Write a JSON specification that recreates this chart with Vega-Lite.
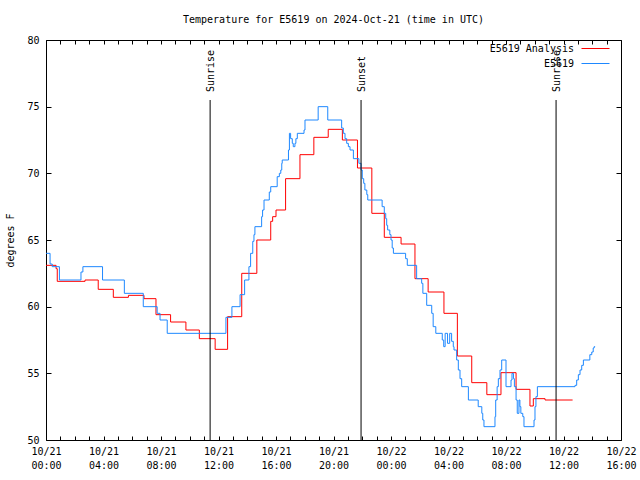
{
  "$schema": "https://vega.github.io/schema/vega-lite/v6.json",
  "width": 575,
  "height": 400,
  "autosize": {"type": "none"},
  "padding": {"left": 46, "top": 40, "right": 19, "bottom": 40},
  "background": "white",
  "title": {"text": "Temperature for E5619 on 2024-Oct-21 (time in UTC)", "font": "DejaVu Sans Mono", "fontSize": 10, "fontWeight": "normal", "offset": 9, "anchor": "middle", "color": "black"},
  "config": {"view": {"stroke": "black", "strokeWidth": 1}, "font": "DejaVu Sans Mono"},
  "resolve": {"scale": {"color": "independent"}, "legend": {"color": "independent"}},
  "datasets": {
    "temps": [
      {"t": "2024-10-21T00:00:00Z", "s": "E5619", "v": 64},
      {"t": "2024-10-21T00:17:00Z", "s": "E5619", "v": 63.2},
      {"t": "2024-10-21T00:26:00Z", "s": "E5619", "v": 63},
      {"t": "2024-10-21T00:56:00Z", "s": "E5619", "v": 62},
      {"t": "2024-10-21T02:26:00Z", "s": "E5619", "v": 62.6},
      {"t": "2024-10-21T02:34:00Z", "s": "E5619", "v": 63},
      {"t": "2024-10-21T03:56:00Z", "s": "E5619", "v": 62},
      {"t": "2024-10-21T05:27:00Z", "s": "E5619", "v": 61},
      {"t": "2024-10-21T06:46:00Z", "s": "E5619", "v": 60},
      {"t": "2024-10-21T07:44:00Z", "s": "E5619", "v": 59.5},
      {"t": "2024-10-21T07:56:00Z", "s": "E5619", "v": 59},
      {"t": "2024-10-21T08:26:00Z", "s": "E5619", "v": 58},
      {"t": "2024-10-21T12:31:00Z", "s": "E5619", "v": 59.2},
      {"t": "2024-10-21T12:56:00Z", "s": "E5619", "v": 60},
      {"t": "2024-10-21T13:30:00Z", "s": "E5619", "v": 60.9},
      {"t": "2024-10-21T13:49:00Z", "s": "E5619", "v": 62},
      {"t": "2024-10-21T14:07:00Z", "s": "E5619", "v": 63},
      {"t": "2024-10-21T14:14:00Z", "s": "E5619", "v": 64},
      {"t": "2024-10-21T14:23:00Z", "s": "E5619", "v": 64.9},
      {"t": "2024-10-21T14:28:00Z", "s": "E5619", "v": 65.4},
      {"t": "2024-10-21T14:32:00Z", "s": "E5619", "v": 66},
      {"t": "2024-10-21T15:00:00Z", "s": "E5619", "v": 66.75},
      {"t": "2024-10-21T15:04:00Z", "s": "E5619", "v": 67.25},
      {"t": "2024-10-21T15:10:00Z", "s": "E5619", "v": 68},
      {"t": "2024-10-21T15:32:00Z", "s": "E5619", "v": 68.6},
      {"t": "2024-10-21T15:38:00Z", "s": "E5619", "v": 69},
      {"t": "2024-10-21T16:05:00Z", "s": "E5619", "v": 69.75},
      {"t": "2024-10-21T16:14:00Z", "s": "E5619", "v": 70},
      {"t": "2024-10-21T16:20:00Z", "s": "E5619", "v": 70.25},
      {"t": "2024-10-21T16:24:00Z", "s": "E5619", "v": 70.75},
      {"t": "2024-10-21T16:26:00Z", "s": "E5619", "v": 71},
      {"t": "2024-10-21T16:52:00Z", "s": "E5619", "v": 71.75},
      {"t": "2024-10-21T16:56:00Z", "s": "E5619", "v": 73},
      {"t": "2024-10-21T17:01:00Z", "s": "E5619", "v": 72.6},
      {"t": "2024-10-21T17:08:00Z", "s": "E5619", "v": 72.25},
      {"t": "2024-10-21T17:12:00Z", "s": "E5619", "v": 72},
      {"t": "2024-10-21T17:19:00Z", "s": "E5619", "v": 72.25},
      {"t": "2024-10-21T17:23:00Z", "s": "E5619", "v": 72.6},
      {"t": "2024-10-21T17:29:00Z", "s": "E5619", "v": 73},
      {"t": "2024-10-21T17:57:00Z", "s": "E5619", "v": 73.25},
      {"t": "2024-10-21T18:01:00Z", "s": "E5619", "v": 74},
      {"t": "2024-10-21T18:56:00Z", "s": "E5619", "v": 75},
      {"t": "2024-10-21T19:36:00Z", "s": "E5619", "v": 74},
      {"t": "2024-10-21T20:34:00Z", "s": "E5619", "v": 73.4},
      {"t": "2024-10-21T20:41:00Z", "s": "E5619", "v": 73},
      {"t": "2024-10-21T20:48:00Z", "s": "E5619", "v": 72.6},
      {"t": "2024-10-21T20:55:00Z", "s": "E5619", "v": 72.25},
      {"t": "2024-10-21T21:02:00Z", "s": "E5619", "v": 72},
      {"t": "2024-10-21T21:09:00Z", "s": "E5619", "v": 71.75},
      {"t": "2024-10-21T21:23:00Z", "s": "E5619", "v": 71.1},
      {"t": "2024-10-21T21:46:00Z", "s": "E5619", "v": 70.75},
      {"t": "2024-10-21T21:55:00Z", "s": "E5619", "v": 70.25},
      {"t": "2024-10-21T22:00:00Z", "s": "E5619", "v": 69.6},
      {"t": "2024-10-21T22:06:00Z", "s": "E5619", "v": 69.25},
      {"t": "2024-10-21T22:11:00Z", "s": "E5619", "v": 68.75},
      {"t": "2024-10-21T22:19:00Z", "s": "E5619", "v": 68.4},
      {"t": "2024-10-21T22:23:00Z", "s": "E5619", "v": 68},
      {"t": "2024-10-21T23:23:00Z", "s": "E5619", "v": 67.5},
      {"t": "2024-10-21T23:32:00Z", "s": "E5619", "v": 67},
      {"t": "2024-10-21T23:38:00Z", "s": "E5619", "v": 66.6},
      {"t": "2024-10-21T23:42:00Z", "s": "E5619", "v": 66.1},
      {"t": "2024-10-21T23:46:00Z", "s": "E5619", "v": 65.75},
      {"t": "2024-10-21T23:55:00Z", "s": "E5619", "v": 65.4},
      {"t": "2024-10-22T00:00:00Z", "s": "E5619", "v": 65},
      {"t": "2024-10-22T00:05:00Z", "s": "E5619", "v": 64.4},
      {"t": "2024-10-22T00:10:00Z", "s": "E5619", "v": 64},
      {"t": "2024-10-22T01:01:00Z", "s": "E5619", "v": 63.6},
      {"t": "2024-10-22T01:08:00Z", "s": "E5619", "v": 63.1},
      {"t": "2024-10-22T01:47:00Z", "s": "E5619", "v": 62.1},
      {"t": "2024-10-22T02:08:00Z", "s": "E5619", "v": 61.75},
      {"t": "2024-10-22T02:13:00Z", "s": "E5619", "v": 61},
      {"t": "2024-10-22T02:29:00Z", "s": "E5619", "v": 60.1},
      {"t": "2024-10-22T02:50:00Z", "s": "E5619", "v": 59.5},
      {"t": "2024-10-22T02:56:00Z", "s": "E5619", "v": 58.5},
      {"t": "2024-10-22T03:07:00Z", "s": "E5619", "v": 58},
      {"t": "2024-10-22T03:34:00Z", "s": "E5619", "v": 57.5},
      {"t": "2024-10-22T03:40:00Z", "s": "E5619", "v": 57},
      {"t": "2024-10-22T03:46:00Z", "s": "E5619", "v": 58},
      {"t": "2024-10-22T03:56:00Z", "s": "E5619", "v": 57.25},
      {"t": "2024-10-22T04:05:00Z", "s": "E5619", "v": 58},
      {"t": "2024-10-22T04:13:00Z", "s": "E5619", "v": 57.4},
      {"t": "2024-10-22T04:20:00Z", "s": "E5619", "v": 57},
      {"t": "2024-10-22T04:23:00Z", "s": "E5619", "v": 56.75},
      {"t": "2024-10-22T04:34:00Z", "s": "E5619", "v": 56},
      {"t": "2024-10-22T04:41:00Z", "s": "E5619", "v": 55.25},
      {"t": "2024-10-22T04:48:00Z", "s": "E5619", "v": 54.6},
      {"t": "2024-10-22T04:55:00Z", "s": "E5619", "v": 54},
      {"t": "2024-10-22T05:23:00Z", "s": "E5619", "v": 53},
      {"t": "2024-10-22T06:04:00Z", "s": "E5619", "v": 52.5},
      {"t": "2024-10-22T06:19:00Z", "s": "E5619", "v": 52},
      {"t": "2024-10-22T06:23:00Z", "s": "E5619", "v": 51.5},
      {"t": "2024-10-22T06:28:00Z", "s": "E5619", "v": 51},
      {"t": "2024-10-22T07:14:00Z", "s": "E5619", "v": 51.75},
      {"t": "2024-10-22T07:17:00Z", "s": "E5619", "v": 53},
      {"t": "2024-10-22T07:23:00Z", "s": "E5619", "v": 54},
      {"t": "2024-10-22T07:28:00Z", "s": "E5619", "v": 54.6},
      {"t": "2024-10-22T07:35:00Z", "s": "E5619", "v": 55.25},
      {"t": "2024-10-22T07:42:00Z", "s": "E5619", "v": 56},
      {"t": "2024-10-22T08:00:00Z", "s": "E5619", "v": 54},
      {"t": "2024-10-22T08:21:00Z", "s": "E5619", "v": 54.5},
      {"t": "2024-10-22T08:25:00Z", "s": "E5619", "v": 55},
      {"t": "2024-10-22T08:31:00Z", "s": "E5619", "v": 54.6},
      {"t": "2024-10-22T08:35:00Z", "s": "E5619", "v": 54},
      {"t": "2024-10-22T08:42:00Z", "s": "E5619", "v": 53},
      {"t": "2024-10-22T08:47:00Z", "s": "E5619", "v": 52},
      {"t": "2024-10-22T08:54:00Z", "s": "E5619", "v": 53},
      {"t": "2024-10-22T08:58:00Z", "s": "E5619", "v": 52.5},
      {"t": "2024-10-22T09:02:00Z", "s": "E5619", "v": 52},
      {"t": "2024-10-22T09:10:00Z", "s": "E5619", "v": 51.75},
      {"t": "2024-10-22T09:15:00Z", "s": "E5619", "v": 51},
      {"t": "2024-10-22T09:57:00Z", "s": "E5619", "v": 51.5},
      {"t": "2024-10-22T10:01:00Z", "s": "E5619", "v": 52.5},
      {"t": "2024-10-22T10:05:00Z", "s": "E5619", "v": 53.25},
      {"t": "2024-10-22T10:11:00Z", "s": "E5619", "v": 54},
      {"t": "2024-10-22T12:48:00Z", "s": "E5619", "v": 54.1},
      {"t": "2024-10-22T12:55:00Z", "s": "E5619", "v": 54.5},
      {"t": "2024-10-22T13:02:00Z", "s": "E5619", "v": 54.9},
      {"t": "2024-10-22T13:09:00Z", "s": "E5619", "v": 55.25},
      {"t": "2024-10-22T13:16:00Z", "s": "E5619", "v": 55.6},
      {"t": "2024-10-22T13:23:00Z", "s": "E5619", "v": 56},
      {"t": "2024-10-22T13:50:00Z", "s": "E5619", "v": 56.4},
      {"t": "2024-10-22T13:58:00Z", "s": "E5619", "v": 56.6},
      {"t": "2024-10-22T14:04:00Z", "s": "E5619", "v": 56.9},
      {"t": "2024-10-22T14:08:00Z", "s": "E5619", "v": 57},
      {"t": "2024-10-22T14:12:00Z", "s": "E5619", "v": 57},
      {"t": "2024-10-21T00:00:00Z", "s": "E5619 Analysis", "v": 63.1},
      {"t": "2024-10-21T00:42:00Z", "s": "E5619 Analysis", "v": 62.85},
      {"t": "2024-10-21T00:47:00Z", "s": "E5619 Analysis", "v": 61.9},
      {"t": "2024-10-21T02:43:00Z", "s": "E5619 Analysis", "v": 62},
      {"t": "2024-10-21T03:38:00Z", "s": "E5619 Analysis", "v": 61.3},
      {"t": "2024-10-21T04:41:00Z", "s": "E5619 Analysis", "v": 60.7},
      {"t": "2024-10-21T05:44:00Z", "s": "E5619 Analysis", "v": 60.85},
      {"t": "2024-10-21T06:49:00Z", "s": "E5619 Analysis", "v": 60.6},
      {"t": "2024-10-21T07:39:00Z", "s": "E5619 Analysis", "v": 59.4},
      {"t": "2024-10-21T08:40:00Z", "s": "E5619 Analysis", "v": 58.85},
      {"t": "2024-10-21T09:44:00Z", "s": "E5619 Analysis", "v": 58.25},
      {"t": "2024-10-21T10:40:00Z", "s": "E5619 Analysis", "v": 57.6},
      {"t": "2024-10-21T11:46:00Z", "s": "E5619 Analysis", "v": 56.8},
      {"t": "2024-10-21T12:38:00Z", "s": "E5619 Analysis", "v": 59.25},
      {"t": "2024-10-21T13:37:00Z", "s": "E5619 Analysis", "v": 62.5},
      {"t": "2024-10-21T14:40:00Z", "s": "E5619 Analysis", "v": 65},
      {"t": "2024-10-21T15:38:00Z", "s": "E5619 Analysis", "v": 66.4},
      {"t": "2024-10-21T15:46:00Z", "s": "E5619 Analysis", "v": 66.75},
      {"t": "2024-10-21T16:00:00Z", "s": "E5619 Analysis", "v": 67.25},
      {"t": "2024-10-21T16:40:00Z", "s": "E5619 Analysis", "v": 69.6},
      {"t": "2024-10-21T17:40:00Z", "s": "E5619 Analysis", "v": 71.4},
      {"t": "2024-10-21T18:38:00Z", "s": "E5619 Analysis", "v": 72.7},
      {"t": "2024-10-21T19:38:00Z", "s": "E5619 Analysis", "v": 73.3},
      {"t": "2024-10-21T20:37:00Z", "s": "E5619 Analysis", "v": 72.5},
      {"t": "2024-10-21T21:40:00Z", "s": "E5619 Analysis", "v": 70.4},
      {"t": "2024-10-21T22:40:00Z", "s": "E5619 Analysis", "v": 67},
      {"t": "2024-10-21T23:32:00Z", "s": "E5619 Analysis", "v": 65.2},
      {"t": "2024-10-22T00:42:00Z", "s": "E5619 Analysis", "v": 64.7},
      {"t": "2024-10-22T01:40:00Z", "s": "E5619 Analysis", "v": 62.1},
      {"t": "2024-10-22T02:35:00Z", "s": "E5619 Analysis", "v": 61.1},
      {"t": "2024-10-22T03:41:00Z", "s": "E5619 Analysis", "v": 59.5},
      {"t": "2024-10-22T04:37:00Z", "s": "E5619 Analysis", "v": 56.3},
      {"t": "2024-10-22T05:37:00Z", "s": "E5619 Analysis", "v": 54.3},
      {"t": "2024-10-22T06:40:00Z", "s": "E5619 Analysis", "v": 53.4},
      {"t": "2024-10-22T07:39:00Z", "s": "E5619 Analysis", "v": 55.05},
      {"t": "2024-10-22T08:42:00Z", "s": "E5619 Analysis", "v": 53.8},
      {"t": "2024-10-22T09:40:00Z", "s": "E5619 Analysis", "v": 52.55},
      {"t": "2024-10-22T09:54:00Z", "s": "E5619 Analysis", "v": 53.1},
      {"t": "2024-10-22T10:43:00Z", "s": "E5619 Analysis", "v": 53},
      {"t": "2024-10-22T12:38:00Z", "s": "E5619 Analysis", "v": 53}
    ],
    "events": [
      {"t": "2024-10-21T11:25:00Z", "label": "Sunrise"},
      {"t": "2024-10-21T21:55:00Z", "label": "Sunset"},
      {"t": "2024-10-22T11:29:00Z", "label": "Sunrise"}
    ]
  },
  "layer": [
    {
      "data": {"name": "temps"},
      "transform": [{"filter": "datum.s == 'E5619 Analysis'"}],
      "mark": {"type": "line", "interpolate": "step-after", "strokeWidth": 1},
      "encoding": {
        "x": {
          "field": "t", "type": "temporal",
          "scale": {"type": "utc", "domain": [{"year": 2024, "month": 10, "date": 21, "hours": 0, "utc": true}, {"year": 2024, "month": 10, "date": 22, "hours": 16, "utc": true}]},
          "axis": {
            "orient": "bottom", "title": null, "domain": false, "grid": false,
            "tickCount": 40,
            "tickSize": -4, "tickColor": "black", "tickWidth": 1,
            "labelExpr": "utchours(datum.value) % 4 == 0 ? [utcFormat(datum.value, '%m/%d'), utcFormat(datum.value, '%H:%M')] : ''",
            "labelOverlap": false, "labelFlush": false, "labelBound": false,
            "labelPadding": 10, "labelFont": "DejaVu Sans Mono", "labelFontSize": 10, "labelColor": "black",
            "labelLineHeight": 14, "labelBaseline": "top"
          }
        },
        "y": {
          "field": "v", "type": "quantitative",
          "scale": {"domain": [50, 80], "nice": false, "zero": false},
          "axis": {
            "orient": "left", "title": "degrees F", "values": [50, 55, 60, 65, 70, 75, 80],
            "domain": false, "grid": false, "tickSize": -5, "tickColor": "black",
            "labelPadding": 12, "labelFont": "DejaVu Sans Mono", "labelFontSize": 10, "labelColor": "black",
            "titleFont": "DejaVu Sans Mono", "titleFontSize": 10, "titleFontWeight": "normal", "titleColor": "black",
            "titleX": -36, "titleBaseline": "middle", "titleAlign": "center", "titleAngle": 270
          }
        },
        "color": {
          "field": "s", "type": "nominal",
          "scale": {"domain": ["E5619 Analysis"], "range": ["#ff0000"]},
          "legend": {
            "title": null, "orient": "none", "legendX": 535, "legendY": -6, "padding": 0,
            "symbolType": "stroke", "symbolSize": 784, "symbolStrokeWidth": 1,
            "labelAlign": "right", "labelOffset": -36,
            "labelFont": "DejaVu Sans Mono", "labelFontSize": 10, "labelColor": "black"
          }
        }
      }
    },
    {
      "data": {"name": "temps"},
      "transform": [{"filter": "datum.s == 'E5619'"}],
      "mark": {"type": "line", "interpolate": "step-after", "strokeWidth": 1},
      "encoding": {
        "x": {
          "field": "t", "type": "temporal",
          "scale": {"type": "utc", "domain": [{"year": 2024, "month": 10, "date": 21, "hours": 0, "utc": true}, {"year": 2024, "month": 10, "date": 22, "hours": 16, "utc": true}]},
          "axis": null
        },
        "y": {"field": "v", "type": "quantitative", "scale": {"domain": [50, 80], "nice": false, "zero": false}, "axis": null},
        "color": {
          "field": "s", "type": "nominal",
          "scale": {"domain": ["E5619"], "range": ["#1e88ff"]},
          "legend": {
            "title": null, "orient": "none", "legendX": 535, "legendY": 9, "padding": 0,
            "symbolType": "stroke", "symbolSize": 784, "symbolStrokeWidth": 1,
            "labelAlign": "right", "labelOffset": -36,
            "labelFont": "DejaVu Sans Mono", "labelFontSize": 10, "labelColor": "black"
          }
        }
      }
    },
    {
      "data": {"name": "events"},
      "mark": {"type": "rule", "color": "black", "strokeWidth": 1},
      "encoding": {
        "x": {
          "field": "t", "type": "temporal",
          "scale": {"type": "utc", "domain": [{"year": 2024, "month": 10, "date": 21, "hours": 0, "utc": true}, {"year": 2024, "month": 10, "date": 22, "hours": 16, "utc": true}]},
          "axis": {"orient": "top", "title": null, "domain": false, "grid": false, "labels": false, "tickCount": 40, "tickSize": -4, "tickColor": "black"}
        },
        "y": {"datum": 50, "type": "quantitative", "axis": {"orient": "right", "title": null, "domain": false, "grid": false, "labels": false, "values": [50, 55, 60, 65, 70, 75, 80], "tickSize": -5, "tickColor": "black"}},
        "y2": {"datum": 75.5}
      }
    },
    {
      "data": {"name": "events"},
      "mark": {"type": "text", "angle": 270, "align": "left", "baseline": "middle", "dx": 8, "dy": 1, "font": "DejaVu Sans Mono", "fontSize": 10, "color": "black"},
      "encoding": {
        "x": {"field": "t", "type": "temporal", "axis": null},
        "y": {"datum": 75.5, "type": "quantitative", "axis": null},
        "text": {"field": "label"}
      }
    }
  ]
}
